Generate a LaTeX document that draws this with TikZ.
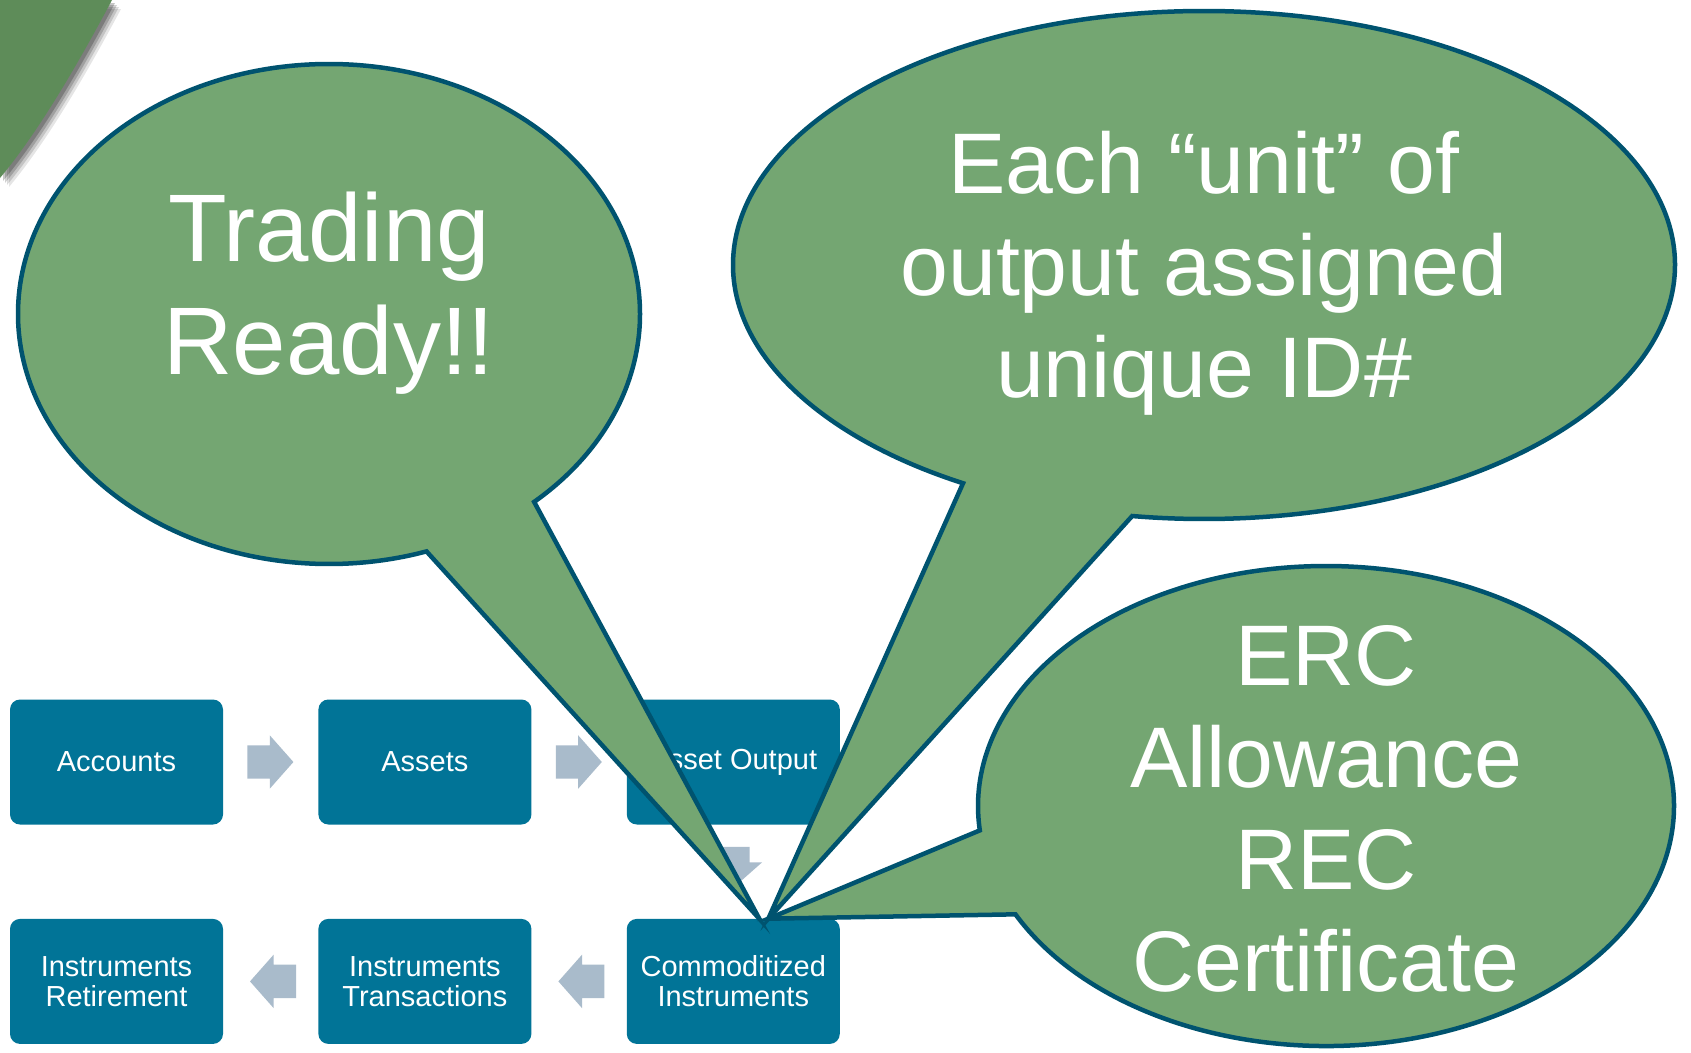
\documentclass[tikz,border=0pt]{standalone}
\usepackage{fontspec}
\setmainfont{Liberation Sans}
\usetikzlibrary{positioning,calc,shapes.arrows,shapes.callouts}
\definecolor{boxteal}{RGB}{1,116,151}
\definecolor{arrowgrey}{RGB}{169,187,203}
\definecolor{bubblegreen}{RGB}{116,166,114}
\definecolor{bubbleline}{RGB}{0,83,111}
\definecolor{cornergreen}{RGB}{94,140,89}

\begin{document}
\begin{tikzpicture}[
        x=1pt, y=-1pt,
        stage/.style = {shape=rectangle, rounded corners=10pt, fill=boxteal, text=white, align=center, minimum width=213pt, minimum height=125pt, inner sep=0pt, font=\fontsize{29}{30}\selectfont},
        flow/.style = {single arrow, anchor=tail, fill=arrowgrey, minimum height=46pt, inner xsep=0pt, inner ysep=16.5pt, single arrow head extend=10pt, single arrow tip angle=97},
        bubble/.style = {ellipse callout, fill=bubblegreen, draw=bubbleline, line width=4.5pt, inner sep=0pt},
        bubbletext/.style = {text=white, align=center}
    ]

    \path[use as bounding box, fill=white] (0,0) rectangle (1691,1052);

    % corner decoration with its soft shadow
    \foreach \s/\o in {9/0.10,7/0.14,5/0.18,3/0.22}
        \fill[black, opacity=\o, shift={(\s,\s)}] (0,0) -- (112,0) .. controls (80,60) and (40,130) .. (0,178) -- cycle;
    \fill[cornergreen] (0,0) -- (112,0) .. controls (80,60) and (40,130) .. (0,178) -- cycle;

    % process boxes
    \node[stage] (accounts) at (116.5,762) {Accounts};
    \node[stage, right=95pt of accounts] (assets) {Assets};
    \node[stage, right=95pt of assets] (output) {Asset Output};
    \node[stage, below=94pt of output] (commod) {Commoditized\\Instruments};
    \node[stage, left=95pt of commod] (trans) {Instruments\\Transactions};
    \node[stage, left=95pt of trans] (retire) {Instruments\\Retirement};

    % flow arrows
    \node[flow] (accToAss) at ($(accounts.east)+(24,0)$) {};
    \node[flow] (assToOut) at ($(assets.east)+(24,0)$) {};
    \node[flow, rotate=-90, minimum height=40pt, inner ysep=15pt, single arrow head extend=12.5pt] (outToCom) at ($(output.south)+(1,22)$) {};
    \node[flow, rotate=180] (comToTra) at ($(commod.west)+(-22,0)$) {};
    \node[flow, rotate=180] (traToRet) at ($(trans.west)+(-22,0)$) {};

    % callouts
    \node[bubble, minimum width=622pt, minimum height=500pt, callout pointer arc=23,
          callout absolute pointer={([xshift=26pt]commod.north)}] (ready) at (329,314) {};
    \node[bubbletext, font=\fontsize{96}{113}\selectfont, yshift=21pt] (readyText) at (ready.center) {Trading\\Ready!!};

    \node[bubble, minimum width=942pt, minimum height=508pt, callout pointer arc=22,
          callout absolute pointer={([xshift=35pt]commod.north)}] (unitId) at (1204,265) {};
    \node[bubbletext, font=\fontsize{86}{102}\selectfont, yshift=-8pt] (unitIdText) at (unitId.center) {Each “unit” of\\output assigned\\unique ID\#};

    \node[bubble, minimum width=696pt, minimum height=480pt, callout pointer arc=21,
          callout absolute pointer={([xshift=35pt]commod.north)}] (kinds) at (1326,806) {};
    \node[bubbletext, font=\fontsize{86}{102}\selectfont, yshift=-3pt] (kindsText) at (kinds.center) {ERC\\Allowance\\REC\\Certificate};

\end{tikzpicture}
\end{document}
